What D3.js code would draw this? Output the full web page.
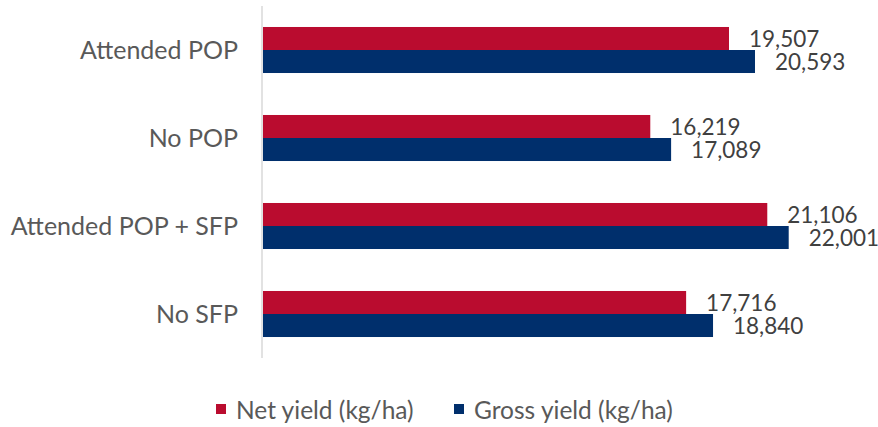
<!DOCTYPE html>
<html><head><meta charset="utf-8">
<script src="https://cdn.jsdelivr.net/npm/d3@7"></script>
<style>body{margin:0;background:#fff;}svg{display:block;}</style>
</head><body>
<svg id="chart" width="878" height="427"></svg>
<script>
const categories = ["Attended POP", "No POP", "Attended POP + SFP", "No SFP"];
const seriesNames = ["Net yield (kg/ha)", "Gross yield (kg/ha)"];
const netYield = [19507, 16219, 21106, 17716];
const grossYield = [20593, 17089, 22001, 18840];
const colors = ["#BA0C2F", "#002F6C"];

const svg = d3.select("#chart");
const font = "Lato, 'Open Sans', sans-serif";
const rows = categories.map((c, i) => ({cat: c, vals: [netYield[i], grossYield[i]]}));

const x = d3.scaleLinear().domain([0, 25000]).range([262, 860.5]);
const y = d3.scaleBand().domain(categories).range([6, 358]).paddingInner(0.477).paddingOuter(0.2385);
const y1 = d3.scaleBand().domain([0, 1]).range([0, y.bandwidth()]);

// axis line
svg.append("line").attr("x1", x(0)).attr("x2", x(0)).attr("y1", 6).attr("y2", 358)
  .attr("stroke", "#d9d9d9").attr("stroke-width", 1.5);

const g = svg.selectAll("g.cat").data(rows).join("g").attr("class", "cat")
  .attr("transform", d => `translate(0,${y(d.cat)})`);

g.selectAll("rect").data(d => d.vals.map((v, j) => ({v, j}))).join("rect")
  .attr("x", x(0) + 1).attr("y", d => y1(d.j))
  .attr("width", d => x(d.v) - x(0) - 1).attr("height", y1.bandwidth())
  .attr("fill", d => colors[d.j]);

g.selectAll("text.val").data(d => d.vals.map((v, j) => ({v, j}))).join("text")
  .attr("class", "val")
  .attr("x", d => x(d.v) + 20).attr("y", d => y1(d.j) + y1.bandwidth() / 2)
  .attr("dy", "0.36em")
  .attr("font-family", font).attr("font-size", 22.5).attr("fill", "#404040")
  .text(d => d3.format(",")(d.v));

// category labels
svg.selectAll("text.cat").data(categories).join("text").attr("class", "cat")
  .attr("x", 238).attr("y", d => y(d) + y.bandwidth() / 2)
  .attr("dy", "0.36em").attr("text-anchor", "end")
  .attr("font-family", font).attr("font-size", 25).attr("fill", "#595959")
  .text(d => d);

// legend
const legX = [216, 454];
const leg = svg.selectAll("g.leg").data(seriesNames).join("g").attr("class", "leg")
  .attr("transform", (d, i) => `translate(${legX[i]},0)`);
leg.append("rect").attr("x", 0).attr("y", 404).attr("width", 10).attr("height", 10)
  .attr("fill", (d, i) => colors[i]);
leg.append("text").attr("x", 20).attr("y", 410).attr("dy", "0.36em")
  .attr("font-family", font).attr("font-size", 24.5).attr("fill", "#595959")
  .text(d => d);
</script>
</body></html>
